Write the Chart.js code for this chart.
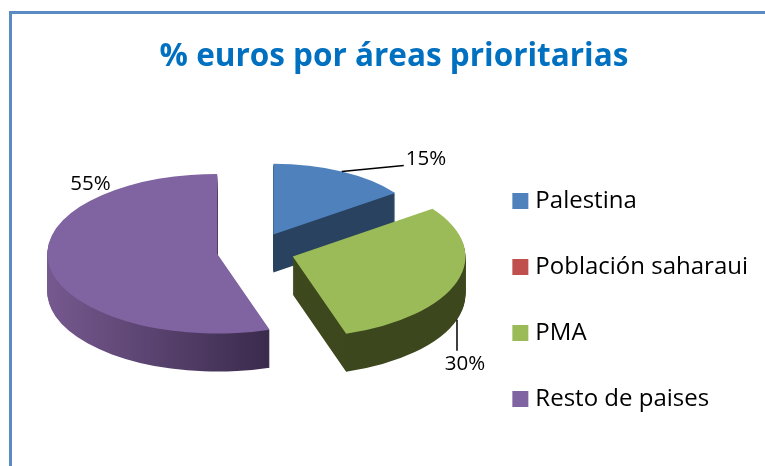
<!DOCTYPE html>
<html>
<head>
<meta charset="utf-8">
<script src="https://cdn.jsdelivr.net/npm/chart.js@4"></script>
<style>
  html, body { margin: 0; padding: 0; background: #fff; overflow: hidden; }
  #frame { position: absolute; left: 9px; top: 11px; right: 0; bottom: 0; border-left: 3px solid #5b8bc4; border-top: 3px solid #5b8bc4; }
  canvas { position: absolute; left: 0; top: 0; }
</style>
</head>
<body>
<div id="frame"></div>
<canvas id="pie" width="765" height="466"></canvas>
<script>
const categories = ['Palestina', 'Población saharaui', 'PMA', 'Resto de paises'];
const shares     = [15, 0, 30, 55];
const topColors  = ['#4f81bd', '#c0504d', '#9bbb59', '#8064a2'];
const sideColors = [['#28425f', '#28425f'], ['#5e2624', '#5e2624'], ['#434e20', '#3c471d'], ['#76598f', '#38294a']];

// 3D look
const RADIUS = 167, TILT = 0.47, DEPTH = 38, EXPLODE = 39, PERSPECTIVE = 0.11;
const PIE_LIFT = 49, PIE_SHIFT = 3;

// label offset from its anchor, leader line yes or no
const labelDx     = [64, 0, 8, 21];
const labelDy     = [-12, 0, 45, -82];
const labelLeader = [true, false, true, false];

function placeSlice(ctx, arc, drop) {
  const mid = (arc.startAngle + arc.endAngle) / 2;
  const scale = 1 + PERSPECTIVE * Math.sin(mid);
  ctx.translate(arc.x + PIE_SHIFT + Math.cos(mid) * EXPLODE, arc.y - PIE_LIFT + Math.sin(mid) * EXPLODE * TILT + drop);
  ctx.scale(scale, scale * TILT);
  ctx.translate(-arc.x, -arc.y);
}

function paintArc(ctx, arc, fill) {
  const copy = Object.create(arc);
  copy.options = { ...arc.options, backgroundColor: fill };
  arc.draw.call(copy, ctx);
}

const tiltedPie = {
  id: 'tiltedPie',
  beforeDatasetsDraw(chart) {
    const ctx = chart.ctx;
    const arcs = chart.getDatasetMeta(0).data;
    arcs.forEach((arc, i) => {
      if (!shares[i]) return;
      const grad = ctx.createLinearGradient(arc.x - RADIUS, 0, arc.x + RADIUS * 0.35, 0);
      grad.addColorStop(0, sideColors[i][0]);
      grad.addColorStop(1, sideColors[i][1]);
      for (let d = DEPTH; d >= 0; d--) {
        ctx.save();
        placeSlice(ctx, arc, d);
        paintArc(ctx, arc, d === 0 ? topColors[i] : grad);
        ctx.restore();
      }
    });

    // data labels
    ctx.save();
    ctx.font = '20.5px "Open Sans"';
    ctx.fillStyle = '#000';
    ctx.textBaseline = 'middle';
    ctx.textAlign = 'left';
    arcs.forEach((arc, i) => {
      if (!shares[i]) return;
      const mid = (arc.startAngle + arc.endAngle) / 2;
      const scale = 1 + PERSPECTIVE * Math.sin(mid);
      const near = Math.sin(mid) > 0 && labelLeader[i];
      const ax = arc.x + PIE_SHIFT + Math.cos(mid) * (EXPLODE + RADIUS * scale);
      const ay = arc.y - PIE_LIFT + Math.sin(mid) * (EXPLODE + RADIUS * scale) * TILT + (near ? DEPTH : 0);
      const tx = ax + labelDx[i], ty = ay + labelDy[i];
      if (labelLeader[i]) {
        ctx.beginPath();
        ctx.moveTo(ax, ay);
        if (near) ctx.lineTo(ax, ty - 14);
        else ctx.lineTo(tx - 2, ty + 6);
        ctx.lineWidth = 1.5;
        ctx.strokeStyle = '#000';
        ctx.stroke();
      }
      ctx.textAlign = near ? 'center' : 'left';
      ctx.fillText(shares[i] + '%', tx, ty);
    });
    ctx.restore();
    return false;
  }
};

new Chart(document.getElementById('pie'), {
  type: 'pie',
  data: {
    labels: categories,
    datasets: [{ data: shares, backgroundColor: topColors, borderWidth: 0 }]
  },
  options: {
    responsive: false,
    animation: false,
    radius: RADIUS,
    layout: { padding: { left: 30, right: 7, top: 0, bottom: 0 } },
    plugins: {
      title: {
        display: true,
        text: '% euros por áreas prioritarias',
        color: '#0070c0',
        font: { family: '"Open Sans"', size: 31.5, weight: 'bold' },
        padding: { top: 38, bottom: 58 }
      },
      legend: {
        position: 'right',
        fullSize: false,
        labels: {
          color: '#000',
          font: { family: '"Open Sans"', size: 24 },
          boxWidth: 6,
          boxHeight: 6,
          padding: 42,
          generateLabels: () => categories.map((name, i) => ({
            text: name,
            fillStyle: topColors[i],
            strokeStyle: topColors[i],
            lineWidth: 10,
            datasetIndex: 0,
            index: i
          }))
        }
      },
      tooltip: { enabled: false }
    }
  },
  plugins: [tiltedPie]
});
</script>
</body>
</html>
